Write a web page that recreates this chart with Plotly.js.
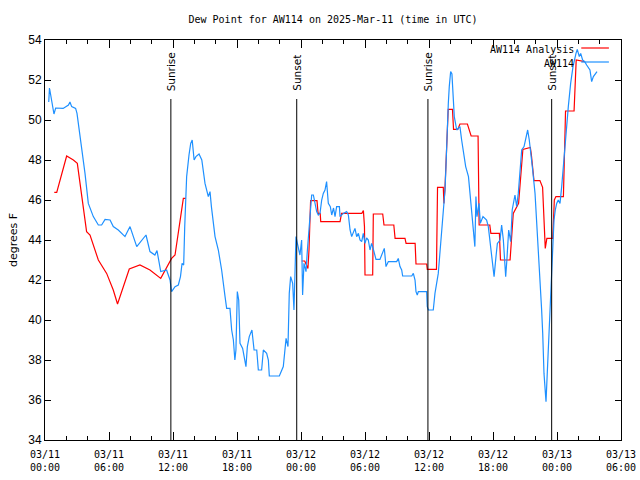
<!DOCTYPE html>
<html>
<head>
<meta charset="utf-8">
<script src="https://cdn.plot.ly/plotly-3.0.1.min.js"></script>
<style>html,body{margin:0;padding:0;background:#fff}#chart{width:640px;height:480px}</style>
</head>
<body>
<div id="chart"></div>
<script>
// Hours after 2025-03-11 00:00 UTC
const obsHours = [0.35,0.42,0.55,0.7,0.84,1.0,1.7,2.2,2.34,2.5,2.87,3.0,3.44,3.75,4.06,4.53,5.0,5.31,5.63,6.1,6.4,6.87,7.5,7.97,8.6,8.9,9.47,9.84,10.3,10.5,10.85,11.4,11.72,11.87,12.19,12.5,12.7,12.85,13.0,13.1,13.28,13.5,13.66,13.8,13.98,14.15,14.44,14.7,14.84,15.0,15.31,15.47,15.6,15.78,15.94,16.25,16.56,16.88,17.03,17.34,17.5,17.66,17.8,17.9,18.03,18.16,18.28,18.53,18.75,18.84,18.97,19.15,19.4,19.6,19.85,20.0,20.31,20.47,20.78,20.94,21.03,21.97,22.34,22.5,22.6,22.78,22.9,23.03,23.22,23.34,23.44,23.53,23.66,23.9,24.06,24.15,24.28,24.47,24.6,24.84,25.0,25.16,25.31,25.47,25.62,25.78,25.94,26.09,26.25,26.4,26.56,26.75,26.88,27.05,27.19,27.34,27.6,27.66,27.97,28.28,28.44,28.6,28.75,28.95,29.06,29.22,29.38,29.53,29.69,29.84,30.0,30.15,30.31,30.47,30.62,30.75,31.03,31.4,31.66,31.81,31.97,32.19,32.97,33.12,33.28,33.44,33.53,34.38,34.53,34.69,34.78,34.9,35.0,35.78,35.84,35.94,36.4,36.56,36.87,37.03,37.19,37.34,37.5,37.59,37.66,37.81,37.9,38.03,38.15,38.28,38.37,38.6,38.9,39.06,39.22,39.44,39.7,39.9,40.09,40.3,40.4,40.5,40.69,40.81,41.06,41.4,41.56,41.7,41.87,42.1,42.28,42.41,42.66,42.81,42.97,43.1,43.19,43.3,43.47,43.66,43.8,44.06,44.22,44.37,44.53,44.69,44.91,45.09,45.25,45.4,45.56,45.72,45.94,46.15,46.4,46.56,46.66,46.78,46.97,47.09,47.2,47.34,47.5,47.6,47.72,47.84,47.97,48.12,48.28,48.44,48.59,48.75,48.91,49.06,49.28,49.5,49.78,49.9,50.09,50.22,50.4,50.6,50.78,51.09,51.25,51.41,51.75];
const obsDew = [50.9,51.6,51.2,50.8,50.3,50.6,50.58,50.75,50.9,50.67,50.58,50.33,48.67,47.33,45.83,45.17,44.75,44.75,45.03,45.0,44.67,44.5,44.17,44.67,43.67,43.88,44.25,43.42,43.25,43.47,42.42,42.5,42.0,41.42,41.67,41.75,42.17,42.83,42.75,44.67,47.17,48.25,48.83,49.0,48.0,48.17,48.3,48.0,47.5,46.83,46.17,46.42,45.67,45.0,44.17,43.5,42.5,41.17,40.58,40.58,39.5,39.0,38.0,38.5,41.42,41.0,38.83,38.58,38.0,37.67,38.67,39.17,39.5,38.5,38.5,37.5,37.5,38.5,38.33,38.0,37.2,37.2,37.67,38.83,39.08,38.67,41.33,42.17,41.83,40.5,42.33,44.17,43.83,43.25,44.0,41.25,42.83,42.42,43.5,45.42,46.25,46.25,45.75,45.42,45.25,45.33,46.0,46.33,46.5,46.92,45.83,45.67,45.25,45.6,45.17,45.67,45.67,45.17,45.33,45.42,45.25,44.5,44.17,44.4,44.58,44.17,44.33,44.0,43.92,44.33,43.83,44.1,44.0,43.5,43.83,43.6,43.03,43.03,43.33,43.58,42.67,42.92,42.92,43.08,42.67,42.5,42.2,42.2,42.33,42.0,41.42,41.25,41.42,41.42,40.67,40.5,40.5,41.33,42.33,43.33,44.67,45.67,46.5,47.67,49.0,50.83,51.67,52.42,52.3,51.33,50.17,49.5,49.67,49.0,48.33,47.67,47.17,46.0,44.83,43.67,46.17,45.17,45.83,44.83,45.17,45.0,44.67,44.0,43.33,42.17,43.17,43.83,44.0,44.75,44.0,43.0,42.17,43.0,44.5,43.92,45.5,46.25,45.67,46.33,47.67,48.5,48.67,49.17,49.5,49.0,48.33,47.5,46.33,44.5,42.5,40.5,39.33,37.33,35.92,37.33,39.0,41.0,42.33,43.33,45.0,45.5,45.83,46.0,45.83,46.67,47.67,49.0,50.0,50.67,51.83,52.67,53.33,53.53,53.17,53.33,53.0,52.92,52.75,52.5,51.92,52.17,52.42];

const anaHours = [0.87,1.1,2.03,2.66,3.03,3.59,3.9,4.22,5.0,5.78,6.4,6.8,7.9,8.9,9.84,10.85,11.87,12.19,12.97,13.2,null,24.06,24.35,24.65,24.75,24.9,25.5,25.6,25.8,25.85,27.66,27.8,29.7,29.85,29.95,30.0,30.72,30.78,31.66,31.78,32.7,32.82,33.75,33.85,34.7,34.78,35.78,35.84,36.7,36.8,37.34,37.4,37.5,37.8,38.2,38.3,38.7,38.9,39.6,39.95,40.6,40.7,41.7,41.8,42.6,42.7,43.6,43.9,44.4,44.8,45.5,45.6,45.84,46.4,46.65,46.9,47.05,47.6,47.75,47.9,48.6,48.75,48.8,49.6,49.8,50.6];
const anaDew = [46.38,46.38,48.2,48.0,47.83,45.67,44.42,44.25,43.0,42.33,41.5,40.8,42.55,42.75,42.5,42.08,43.08,43.25,46.08,46.08,null,42.95,42.95,42.58,43.5,45.97,45.97,45.33,45.33,44.92,44.92,45.33,45.33,45.47,44.67,42.25,42.25,45.3,45.3,44.75,44.75,44.08,44.08,43.83,43.83,42.8,42.8,42.53,42.53,46.63,46.63,45.83,46.6,50.53,50.53,49.53,49.53,49.8,49.8,49.2,49.2,44.75,44.75,44.33,44.33,43.0,43.0,45.33,45.83,48.53,48.63,48.25,46.97,46.97,46.63,43.58,44.08,44.08,46.0,46.17,46.17,49.33,50.45,50.45,53.0,52.92];

const eventHours = [11.8, 23.6, 35.9, 47.5];
const eventLabels = ["Sunrise", "Sunset", "Sunrise", "Sunset"];

const seriesNames = ["AW114 Analysis", "AW114"];
const seriesColors = ["#ff0000", "#1e90ff"];

const BASE = Date.UTC(2025, 2, 11, 0, 0, 0);
function toDate(h) {
  if (h === null) return null;
  return new Date(BASE + h * 3600000).toISOString().slice(0, 19).replace('T', ' ');
}

const mono = "DejaVu Sans Mono, monospace";
const sans = "DejaVu Sans, sans-serif";

const traces = [
  {x: anaHours.map(toDate), y: anaDew, type: 'scatter', mode: 'lines', name: seriesNames[0],
   line: {color: seriesColors[0], width: 1.2}, connectgaps: false, hoverinfo: 'skip'},
  {x: obsHours.map(toDate), y: obsDew, type: 'scatter', mode: 'lines', name: seriesNames[1],
   line: {color: seriesColors[1], width: 1.2}, hoverinfo: 'skip'}
];

const shapes = eventHours.map(h => ({
  type: 'line', xref: 'x', yref: 'y', x0: toDate(h), x1: toDate(h), y0: 34, y1: 51.05,
  line: {color: '#000', width: 1}
}));
const annotations = eventHours.map((h, i) => ({
  x: toDate(h), y: 51.35, xref: 'x', yref: 'y', text: eventLabels[i], textangle: -90,
  showarrow: false, xanchor: 'center', yanchor: 'bottom',
  font: {family: sans, size: 10.5, color: '#000'}
}));

// key (gnuplot style: text right-aligned, sample to the right)
const keyY = [0.977, 0.942];
seriesNames.forEach((n, i) => {
  annotations.push({xref: 'paper', yref: 'paper', x: 0.922, y: keyY[i], text: n, showarrow: false,
    xanchor: 'right', yanchor: 'middle', font: {family: mono, size: 10, color: '#000'}});
  shapes.push({type: 'line', xref: 'paper', yref: 'paper', x0: 0.931, x1: 0.979, y0: keyY[i] + 0.003, y1: keyY[i] + 0.003,
    line: {color: seriesColors[i], width: 1.2}});
});

const layout = {
  width: 640, height: 480,
  margin: {l: 45, r: 19, t: 40, b: 40, pad: 0},
  paper_bgcolor: '#fff', plot_bgcolor: '#fff',
  showlegend: false,
  title: {text: 'Dew Point for AW114 on 2025-Mar-11 (time in UTC)', x: 0.5, xref: 'paper', y: 0.96, yanchor: 'middle',
          font: {family: mono, size: 10, color: '#000'}},
  xaxis: {
    type: 'date', range: [toDate(0), toDate(54)], dtick: 21600000, tick0: toDate(0),
    tickformat: '%m/%d<br>%H:%M', showgrid: false, zeroline: false,
    showline: true, linecolor: '#000', linewidth: 1, mirror: 'ticks',
    ticks: 'inside', ticklen: 8, tickcolor: '#000', ticklabelstandoff: 5,
    minor: {dtick: 7200000, ticks: 'inside', ticklen: 4, tickcolor: '#000', showgrid: false},
    tickfont: {family: mono, size: 10, color: '#000'}
  },
  yaxis: {
    range: [34, 54], dtick: 2, showgrid: false, zeroline: false,
    showline: true, linecolor: '#000', linewidth: 1, mirror: 'ticks',
    ticks: 'inside', ticklen: 6, tickcolor: '#000',
    tickfont: {family: 'Liberation Sans, Arial, sans-serif', size: 12, color: '#000'},
    title: {text: 'degrees F', font: {family: sans, size: 11, color: '#000'}, standoff: 8}
  },
  shapes: shapes,
  annotations: annotations
};

Plotly.newPlot('chart', traces, layout, {staticPlot: true, displayModeBar: false});
</script>
</body>
</html>
